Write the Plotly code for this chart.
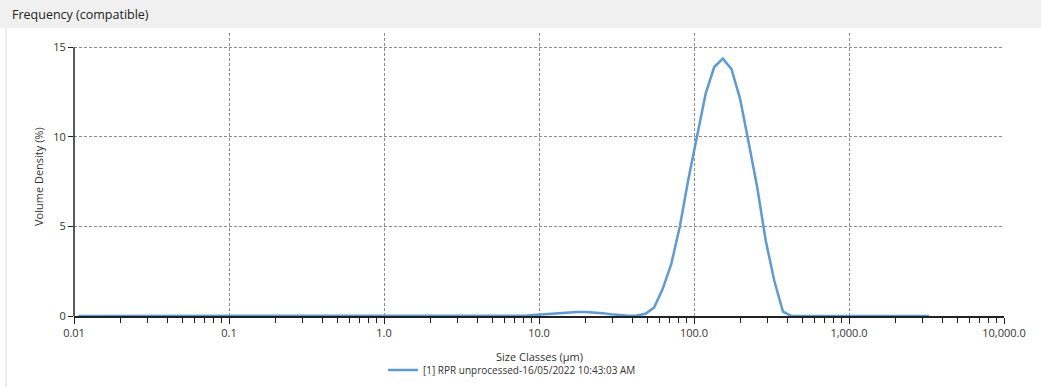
import plotly.graph_objects as go

# Size classes (geometric centres, µm)
size_classes = [
    0.01066, 0.01211, 0.01376, 0.01563, 0.01776, 0.02018, 0.02293, 0.02605, 0.02960, 0.03363,
    0.03821, 0.04342, 0.04932, 0.05604, 0.06367, 0.07234, 0.08219, 0.09338, 0.1061, 0.1205,
    0.1369, 0.1556, 0.1768, 0.2008, 0.2282, 0.2593, 0.2946, 0.3347, 0.3803, 0.4320,
    0.4909, 0.5577, 0.6337, 0.7200, 0.8180, 0.9293, 1.056, 1.199, 1.363, 1.548,
    1.759, 1.999, 2.271, 2.580, 2.931, 3.330, 3.784, 4.299, 4.884, 5.549,
    6.305, 7.163, 8.139, 9.247, 10.51, 11.94, 13.56, 15.41, 17.51, 19.89,
    22.60, 25.68, 29.17, 33.15, 37.66, 42.79, 48.62, 55.24, 62.76, 71.30,
    81.01, 92.04, 104.6, 118.8, 135.0, 153.4, 174.3, 198.0, 225.0, 255.6,
    290.4, 329.9, 374.9, 425.9, 483.9, 549.8, 624.6, 709.6, 806.3, 916.1,
    1041, 1183, 1344, 1527, 1734, 1970, 2239, 2543, 2890, 3283,
]

# Volume density (%)
volume_density = [
    0, 0, 0, 0, 0, 0, 0, 0, 0, 0,
    0, 0, 0, 0, 0, 0, 0, 0, 0, 0,
    0, 0, 0, 0, 0, 0, 0, 0, 0, 0,
    0, 0, 0, 0, 0, 0, 0, 0, 0, 0,
    0, 0, 0, 0, 0, 0, 0, 0, 0, 0,
    0, 0, 0.02, 0.05, 0.09, 0.13, 0.17, 0.20, 0.22, 0.22,
    0.20, 0.16, 0.10, 0.05, 0.02, 0.03, 0.12, 0.47, 1.5, 2.9,
    5.0, 7.65, 10.1, 12.4, 13.9, 14.37, 13.8, 12.15, 9.7, 7.2,
    4.2, 1.95, 0.25, 0, 0, 0, 0, 0, 0, 0,
    0, 0, 0, 0, 0, 0, 0, 0, 0, 0,
]

series_name = "[1] RPR unprocessed-16/05/2022 10:43:03 AM"
x_tick_vals = [0.01, 0.1, 1, 10, 100, 1000, 10000]
x_tick_text = ["0.01", "0.1", "1.0", "10.0", "100.0", "1,000.0", "10,000.0"]
y_tick_vals = [0, 5, 10, 15]
y_tick_text = ["0", "5", "10", "15"]

FONT = "Open Sans"
W, H = 1041, 387
ML, MR, MT, MB = 74, 37, 33, 71
PW = W - ML - MR
PH = H - MT - MB

fig = go.Figure()
fig.add_trace(go.Scatter(
    x=size_classes, y=volume_density, mode="lines", name=series_name,
    line=dict(color="#5b9bd8", width=2.5),
))

grid = dict(showgrid=True, gridcolor="#8c8c8c", gridwidth=1, griddash="3px,2px")

fig.update_layout(
    width=W, height=H,
    margin=dict(l=ML, r=MR, t=MT, b=MB, pad=0, autoexpand=False),
    paper_bgcolor="white", plot_bgcolor="white",
    font=dict(family=FONT, size=11, color="#333333"),
    showlegend=True,
    legend=dict(orientation="h", xref="container", yref="container",
                x=512 / W, xanchor="center",
                y=1 - 370 / H, yanchor="middle",
                font=dict(size=10, color="#333333"), bgcolor="rgba(0,0,0,0)"),
    title=dict(text="Frequency (compatible)", x=12 / W, xanchor="left",
               y=1 - 15 / H, yanchor="middle",
               font=dict(family=FONT, size=12.5, color="#222222")),
    xaxis=dict(type="log", range=[-2, 4], tickvals=x_tick_vals, ticktext=x_tick_text,
               ticks="outside", ticklen=6, tickcolor="#222222", tickwidth=1,
               showline=True, linecolor="#222222", linewidth=1.5,
               zeroline=False, mirror=False, automargin=False,
               minor=dict(ticks="outside", ticklen=5, tickcolor="#222222", dtick="D1",
                          showgrid=False),
               tickfont=dict(size=11, color="#333333"),
               **grid),
    yaxis=dict(range=[0, 15.8], tickvals=y_tick_vals, ticktext=y_tick_text,
               ticks="outside", ticklen=5, tickcolor="#222222", tickwidth=1,
               showline=False, zeroline=False, automargin=False,
               tickfont=dict(size=11, color="#333333"),
               **grid),
)

# header band
fig.add_shape(type="rect", xref="paper", yref="paper",
              x0=-ML / PW, x1=1 + MR / PW, y0=1 + (MT - 28) / PH, y1=1 + MT / PH,
              fillcolor="#f0f0f0", line=dict(width=0), layer="below")
# left panel border
fig.add_shape(type="line", xref="paper", yref="paper",
              x0=(6 - ML) / PW, x1=(6 - ML) / PW, y0=1 + (MT - 28) / PH, y1=-(MB) / PH,
              line=dict(color="#d9d9d9", width=1))
# y axis line from 0 to 15
fig.add_shape(type="line", xref="paper", yref="y", x0=0, x1=0, y0=0, y1=15,
              line=dict(color="#222222", width=1.5))

# axis titles
fig.add_annotation(text="Size Classes (µm)", xref="paper", yref="paper",
                   x=0.5, y=(MT + PH - 356) / PH, xanchor="center", yanchor="middle",
                   showarrow=False, font=dict(size=11, color="#333333"))
fig.add_annotation(text="Volume Density (%)", xref="paper", yref="paper",
                   x=(38 - ML) / PW, y=(MT + PH - 177) / PH, xanchor="center", yanchor="middle",
                   textangle=-90, showarrow=False, font=dict(size=11, color="#333333"))

fig.write_html("out.html", config={"displayModeBar": False},
               post_script="document.body.style.margin='0';document.body.style.overflow='hidden';")
